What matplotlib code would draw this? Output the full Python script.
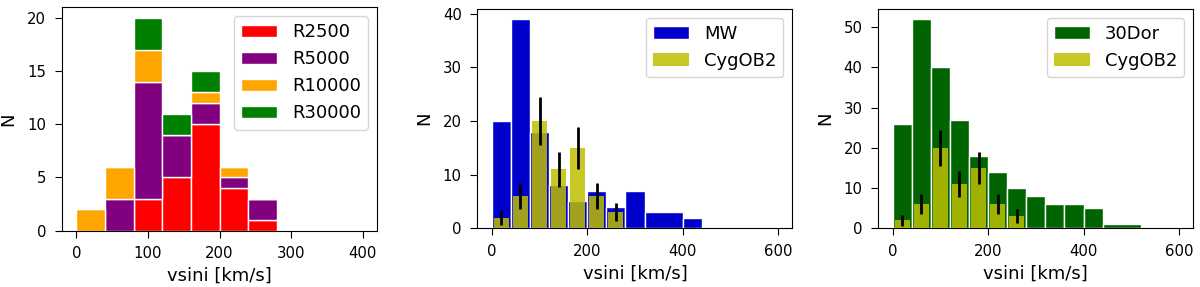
import matplotlib
matplotlib.use('Agg')
import matplotlib.pyplot as plt
import numpy as np

# panel 1: stacked counts per resolution, bins of 40 km/s
res_edges = [0, 40, 80, 120, 160, 200, 240, 280]
r2500 = [0, 0, 3, 5, 10, 4, 1]
r5000 = [0, 3, 11, 4, 2, 1, 2]
r10000 = [2, 3, 3, 0, 1, 1, 0]
r30000 = [0, 0, 3, 2, 2, 0, 0]
res_labels = ['R2500', 'R5000', 'R10000', 'R30000']
res_colors = ['red', 'purple', 'orange', 'green']

# panel 2: Milky Way sample
mw_edges = [0, 40, 80, 120, 160, 200, 240, 280, 320, 400, 440]
mw_counts = [20, 39, 18, 8, 5, 7, 4, 7, 3, 2]

# panel 3: 30 Dor sample
dor_edges = [0, 40, 80, 120, 160, 200, 240, 280, 320, 360, 400, 440, 520]
dor_counts = [26, 52, 40, 27, 18, 14, 10, 8, 6, 6, 5, 1]

# Cyg OB2 with errors
cyg_centers = [20, 60, 100, 140, 180, 220, 260]
cyg_counts = [2, 6, 20, 11, 15, 6, 3]
cyg_err = [1.4, 2.45, 4.5, 3.3, 3.9, 2.45, 1.7]

plt.rcParams['xtick.labelsize'] = 10.7
plt.rcParams['ytick.labelsize'] = 10.7
plt.rcParams['axes.labelsize'] = 13
plt.rcParams['legend.fontsize'] = 13
for k in ('xtick', 'ytick'):
    plt.rcParams[k + '.major.size'] = 5
    plt.rcParams[k + '.major.pad'] = 6.3


def edge_bars(ax, edges, counts, bottom=None, **kw):
    edges = np.asarray(edges)
    return ax.bar(edges[:-1], counts, width=np.diff(edges), align='edge',
                  bottom=bottom, edgecolor='white', linewidth=1, **kw)


def cyg_overlay(ax):
    ax.bar(cyg_centers, cyg_counts, width=31, color='y', alpha=0.85,
           label='CygOB2', zorder=3)
    ax.errorbar(cyg_centers, cyg_counts, yerr=cyg_err, fmt='none',
                ecolor='black', elinewidth=2, capsize=0, zorder=4)


def finish(ax):
    ax.set_xlabel('vsini [km/s]')
    ax.set_ylabel('N', labelpad=7)
    ax.legend(loc='upper right')


fig = plt.figure(figsize=(12, 2.87), dpi=100)

ax1 = fig.add_axes([0.0517, 0.1962, 0.2625, 0.7794])
bottom = np.zeros(len(r2500))
for vals, lab, col in zip([r2500, r5000, r10000, r30000], res_labels, res_colors):
    edge_bars(ax1, res_edges, vals, bottom=bottom, color=col, label=lab)
    bottom = bottom + np.array(vals)
ax1.set_xlim(-20, 420)
ax1.set_ylim(0, 21)
ax1.set_xticks([0, 100, 200, 300, 400])
ax1.set_yticks([0, 5, 10, 15, 20])
finish(ax1)

ax2 = fig.add_axes([0.3979, 0.2045, 0.2625, 0.7652])
edge_bars(ax2, mw_edges, mw_counts, color='mediumblue', label='MW')
cyg_overlay(ax2)
ax2.set_xlim(-30, 630)
ax2.set_ylim(0, 40.95)
ax2.set_xticks([0, 200, 400, 600])
ax2.set_yticks([0, 10, 20, 30, 40])
finish(ax2)

ax3 = fig.add_axes([0.7319, 0.2045, 0.2625, 0.7652])
edge_bars(ax3, dor_edges, dor_counts, color='darkgreen', label='30Dor')
cyg_overlay(ax3)
ax3.set_xlim(-30, 630)
ax3.set_ylim(0, 54.6)
ax3.set_xticks([0, 200, 400, 600])
ax3.set_yticks([0, 10, 20, 30, 40, 50])
finish(ax3)

fig.savefig('out.png', dpi=100)
